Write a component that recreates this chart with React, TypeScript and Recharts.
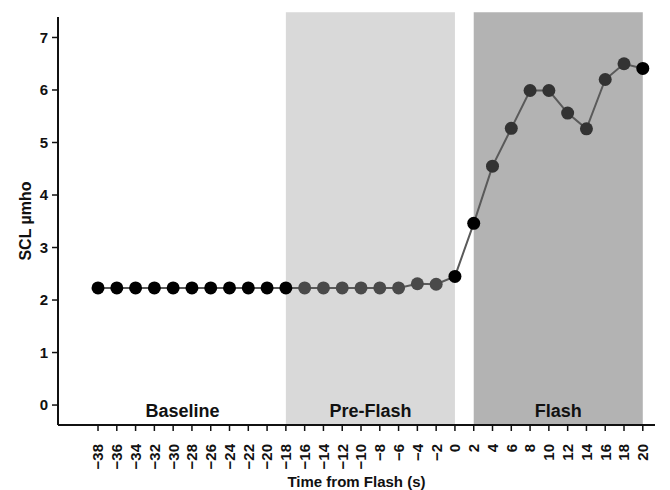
import React from "react";
import {
  LineChart,
  Line,
  XAxis,
  YAxis,
  ReferenceArea,
  Label,
} from "recharts";

const times = [
  -38, -36, -34, -32, -30, -28, -26, -24, -22, -20, -18, -16, -14, -12, -10,
  -8, -6, -4, -2, 0, 2, 4, 6, 8, 10, 12, 14, 16, 18, 20,
];
const sclValues = [
  2.23, 2.23, 2.23, 2.23, 2.23, 2.23, 2.23, 2.23, 2.23, 2.23, 2.23, 2.23,
  2.23, 2.23, 2.23, 2.23, 2.23, 2.31, 2.3, 2.45, 3.46, 4.55, 5.27, 5.99, 5.99,
  5.56, 5.26, 6.2, 6.5, 6.41,
];
const xTicks = times;
const yTicks = [0, 1, 2, 3, 4, 5, 6, 7];
const phaseNames = ["Baseline", "Pre-Flash", "Flash"];
const phaseStarts = [-40, -18, 2];
const phaseEnds = [-18, 0, 20];

const data = times.map((t, i) => ({ t, v: sclValues[i] }));

const FONT = "'Liberation Sans', Arial, Helvetica, sans-serif";

const XTick = (props: any) => {
  const { x, y, payload } = props;
  const v = payload.value;
  const txt = v < 0 ? "\u2212" + Math.abs(v) : String(v);
  return (
    <g transform={`translate(${x},${y + 11})`}>
      <text
        transform="rotate(-90)"
        textAnchor="end"
        dy="0.36em"
        fontFamily={FONT}
        fontWeight="bold"
        fontSize={15}
        fill="#111"
      >
        {txt}
      </text>
    </g>
  );
};

const YTick = (props: any) => {
  const { x, y, payload } = props;
  return (
    <text
      x={x - 2}
      y={y}
      dy="0.36em"
      textAnchor="end"
      fontFamily={FONT}
      fontWeight="bold"
      fontSize={15}
      fill="#111"
    >
      {payload.value}
    </text>
  );
};

const Dot = (props: any) => {
  const { cx, cy, payload } = props;
  if (cx == null || cy == null) return null;
  const t = payload.t;
  let fill = "#000";
  if (t > -18 && t < 0) fill = "#4a4a4a";
  else if (t > 2 && t < 20) fill = "#333";
  return <circle key={`d${t}`} cx={cx} cy={cy} r={6.5} fill={fill} />;
};

const fills = ["none", "#d9d9d9", "#b3b3b3"];

export default function App() {
  return (
    <div style={{ position: "absolute", left: 0, top: 0, background: "#fff" }}>
      <LineChart
        width={670}
        height={490}
        data={data}
        margin={{ top: 17, right: 15, bottom: 0, left: 0 }}
      >
        {phaseNames.map((name, i) => (
          <ReferenceArea
            key={name}
            x1={phaseStarts[i]}
            x2={phaseEnds[i]}
            y1={-0.38}
            y2={7.48}
            ifOverflow="visible"
            fill={fills[i]}
            fillOpacity={1}
            stroke="none"
          >
            <Label
              value={name}
              position="insideBottom"
              offset={8}
              style={{
                fontFamily: FONT,
                fontWeight: "bold",
                fontSize: 18,
                fill: "#111",
              }}
            />
          </ReferenceArea>
        ))}
        <XAxis
          dataKey="t"
          type="number"
          domain={[-42.26, 21.3]}
          ticks={xTicks}
          interval={0}
          allowDataOverflow
          height={65}
          tick={<XTick />}
          tickSize={6}
          axisLine={{ stroke: "#111", strokeWidth: 2 }}
          tickLine={{ stroke: "#111", strokeWidth: 1.5 }}
        >
          <Label
            value="Time from Flash (s)"
            position="insideBottom"
            offset={3}
            style={{
              fontFamily: FONT,
              fontWeight: "bold",
              fontSize: 15,
              fill: "#111",
            }}
          />
        </XAxis>
        <YAxis
          type="number"
          domain={[-0.38, 7.39]}
          ticks={yTicks}
          allowDataOverflow
          width={58}
          tick={<YTick />}
          tickSize={6}
          axisLine={{ stroke: "#111", strokeWidth: 2 }}
          tickLine={{ stroke: "#111", strokeWidth: 1.5 }}
        >
          <Label
            value="SCL µmho"
            angle={-90}
            position="insideLeft"
            offset={25}
            style={{
              textAnchor: "middle",
              fontFamily: FONT,
              fontWeight: "bold",
              fontSize: 16,
              fill: "#111",
            }}
          />
        </YAxis>
        <Line
          dataKey="v"
          stroke="#5a5a5a"
          strokeWidth={2}
          dot={<Dot />}
          activeDot={false}
          isAnimationActive={false}
        />
      </LineChart>
    </div>
  );
}
